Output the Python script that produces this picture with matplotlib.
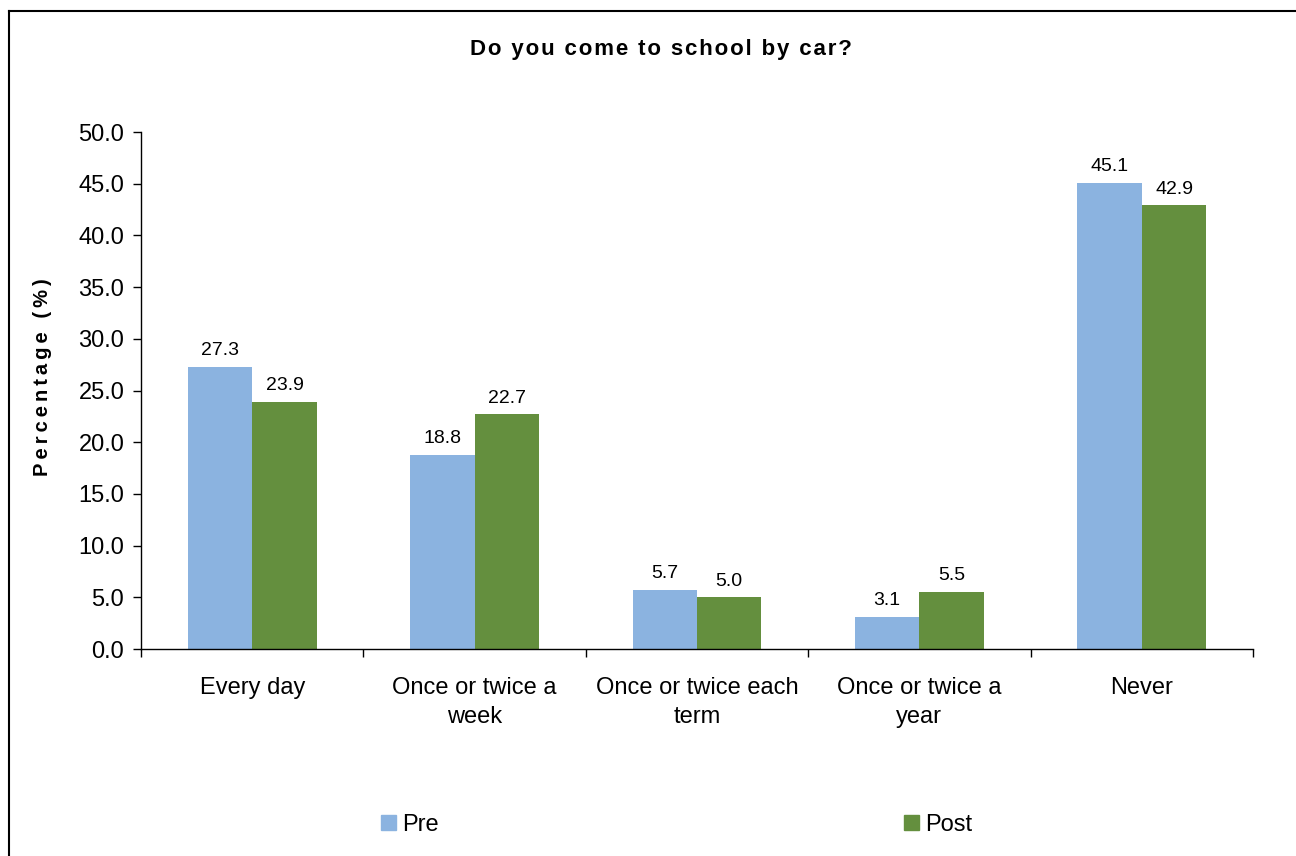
import matplotlib
matplotlib.use("Agg")
import matplotlib.pyplot as plt
import numpy as np
from matplotlib.lines import Line2D

plt.rcParams['font.family'] = ['Liberation Sans', 'DejaVu Sans']

categories = ["Every day", "Once or twice a\nweek", "Once or twice each\nterm", "Once or twice a\nyear", "Never"]
pre = [27.3, 18.8, 5.7, 3.1, 45.1]
post = [23.9, 22.7, 5.0, 5.5, 42.9]
series_names = ["Pre", "Post"]
colors = ["#8BB3E0", "#648F3E"]
yticks = [0, 5, 10, 15, 20, 25, 30, 35, 40, 45, 50]

W, H = 1296, 856
fig = plt.figure(figsize=(W / 100, H / 100), dpi=100)
ax = fig.add_axes([141 / W, 1 - 649 / H, (1253 - 141) / W, (649 - 132) / H])

x = np.arange(len(categories))
bw = 0.29
b1 = ax.bar(x - bw / 2, pre, bw, color=colors[0], label=series_names[0])
b2 = ax.bar(x + bw / 2, post, bw, color=colors[1], label=series_names[1])

for bars, vals in ((b1, pre), (b2, post)):
    for b, v in zip(bars, vals):
        ax.annotate(f"{v:.1f}", (b.get_x() + b.get_width() / 2, v), xytext=(0, 5.5),
                    textcoords="offset points", ha="center", va="bottom", fontsize=14)

ax.set_xlim(-0.5, len(categories) - 0.5)
ax.set_ylim(0, 50)
ax.set_yticks(yticks)
ax.set_yticklabels([f"{t:.1f}" for t in yticks], fontsize=17)
ax.set_xticks(x)
ax.set_xticklabels(categories, fontsize=17, linespacing=1.45)
ax.tick_params(axis="x", length=0, pad=20)
ax.set_xticks(np.arange(len(categories) + 1) - 0.5, minor=True)
ax.tick_params(axis="x", which="minor", length=6, direction="out", width=1)
ax.tick_params(axis="y", length=6, direction="out", width=1, pad=6)
for s in ("top", "right"):
    ax.spines[s].set_visible(False)
for s in ("left", "bottom"):
    ax.spines[s].set_linewidth(1)

ax.set_ylabel("\u2009".join("Percentage (%)"), fontsize=14.5, fontweight="bold")
ax.yaxis.set_label_coords((52 - 141) / (1253 - 141), (649 - 377) / (649 - 132))

title = "Do you come to school by car?"
fig.text(661 / W, 1 - 49 / H, "\u200a".join(title), ha="center", va="center",
         fontsize=16, fontweight="bold")

# legend
handles = [plt.Rectangle((0, 0), 1, 1, color=c) for c in colors]
fig.legend([handles[0]], [series_names[0]], loc="center left",
           bbox_to_anchor=(360 / W, 1 - 825 / H), frameon=False, fontsize=17,
           handlelength=0.62, handleheight=0.62, handletextpad=0.25)
fig.legend([handles[1]], [series_names[1]], loc="center left",
           bbox_to_anchor=(883 / W, 1 - 825 / H), frameon=False, fontsize=17,
           handlelength=0.62, handleheight=0.62, handletextpad=0.25)

# outer border (left and top)
fig.add_artist(Line2D([8.5 / W, 8.5 / W], [0, 1 - 10.5 / H], color="black", lw=1.5, transform=fig.transFigure))
fig.add_artist(Line2D([8.5 / W, 1], [1 - 10.5 / H, 1 - 10.5 / H], color="black", lw=1.5, transform=fig.transFigure))

fig.savefig("out.png", dpi=100)
